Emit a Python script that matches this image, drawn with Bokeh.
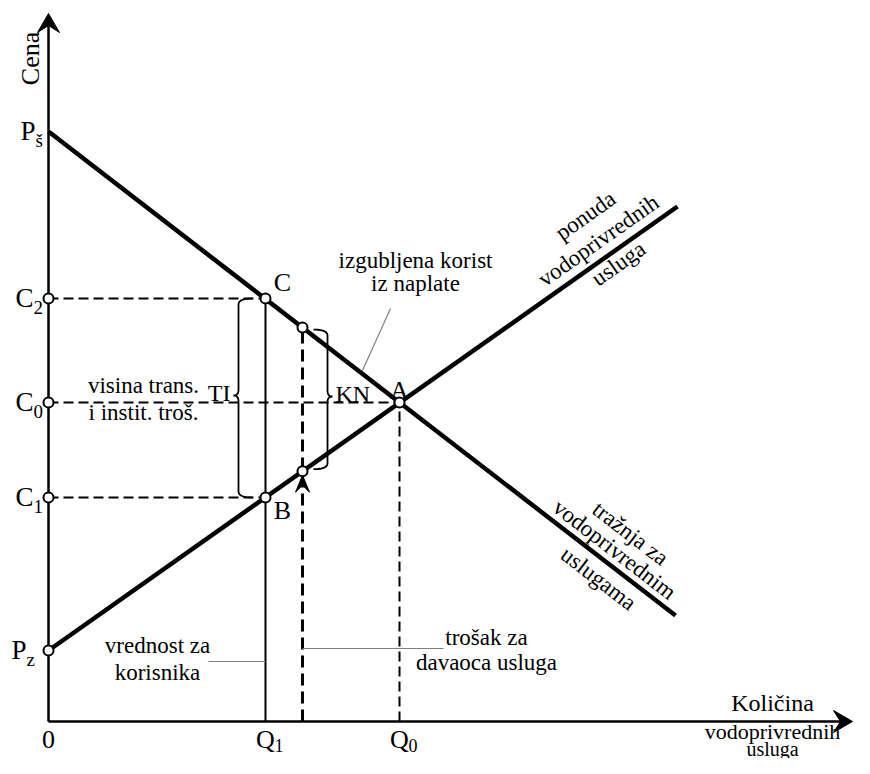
import numpy as np
from bokeh.plotting import figure
from bokeh.models import Range1d
from bokeh.core.properties import value
from bokeh.embed import file_html
from bokeh.resources import INLINE

# ---------------- data (chart units) ----------------
P_s, C2, C0, C1, P_z = 590, 423, 319, 224, 71
Q1, Q0, Qt = 217, 351, 254

demand_q = [0, 627]
demand_p = [590, 106]
supply_q = [0, 629]
supply_p = [71, 515]

y_tick_vals = [P_s, C2, C0, C1, P_z]
y_tick_main = ["P", "C", "C", "C", "P"]
y_tick_sub = ["š", "2", "0", "1", "z"]
x_tick_vals = [0, Q1, Q0]
x_tick_main = ["0", "Q", "Q"]
x_tick_sub = ["", "1", "0"]

x_axis_label = ["Količina", "vodoprivrednih", "usluga"]
y_axis_label = "Cena"
supply_label = ["ponuda", "vodoprivrednih", "usluga"]
demand_label = ["tražnja za", "vodoprivrednim", "uslugama"]
lost_label = ["izgubljena korist", "iz naplate"]
ti_label = ["visina trans.", "i instit. troš."]
user_label = ["vrednost za", "korisnika"]
prov_label = ["trošak za", "davaoca usluga"]

FONT = value("Liberation Serif")

def dem(q):
    return float(np.interp(q, demand_q, demand_p))

def sup(q):
    return float(np.interp(q, supply_q, supply_p))

p = figure(width=854, height=758, x_range=Range1d(-48, 806), y_range=Range1d(-37, 721),
           output_backend="svg", toolbar_location=None, min_border=0,
           x_axis_type=None, y_axis_type=None)
p.grid.visible = False
p.outline_line_color = None
p.background_fill_color = "white"

# axes
ax_top, ax_right = 708, 804
p.line([0, 0], [0, ax_top - 8], line_color="black", line_width=2.5)
p.line([0, ax_right - 8], [0, 0], line_color="black", line_width=2.5)
p.patch([0, -11, 0, 11], [ax_top, ax_top - 19, ax_top - 12, ax_top - 19], color="black")
p.patch([ax_right, ax_right - 19, ax_right - 12, ax_right - 19], [0, 11, 0, -11], color="black")

# dashed guides
dash = dict(line_color="black", line_width=2, line_dash="10 5")
p.line([0, Q1], [C2, C2], **dash)
p.line([0, Q0], [C0, C0], **dash)
p.line([0, Q1], [C1, C1], **dash)
p.line([Q0, Q0], [0, C0], **dash)
p.line([Qt, Qt], [0, dem(Qt)], line_color="black", line_width=3, line_dash="12 6")
p.line([Q1, Q1], [0, C2], line_color="black", line_width=2)

# arrow on cost line
ya = sup(Qt) - 4
p.patch([Qt, Qt - 7, Qt, Qt + 7], [ya, ya - 17, ya - 10, ya - 17], color="black")

# demand & supply
p.line(demand_q, demand_p, line_color="black", line_width=4.5)
p.line(supply_q, supply_p, line_color="black", line_width=4.5)

# braces
def brace(x0, y_top, y_bot, y_nub, d, h=14, n=5, r=6):
    t = np.linspace(0, 1, 12)
    def quad(a, c, b):
        xs = (1 - t) ** 2 * a[0] + 2 * (1 - t) * t * c[0] + t ** 2 * b[0]
        ys = (1 - t) ** 2 * a[1] + 2 * (1 - t) * t * c[1] + t ** 2 * b[1]
        return list(xs), list(ys)
    X, Y = [], []
    for seg in [quad((x0 - d * h, y_top), (x0, y_top), (x0, y_top - r)),
                quad((x0, y_nub + r), (x0, y_nub), (x0 + d * n, y_nub)),
                quad((x0 + d * n, y_nub), (x0, y_nub), (x0, y_nub - r)),
                quad((x0, y_bot + r), (x0, y_bot), (x0 - d * h, y_bot))]:
        X += seg[0]
        Y += seg[1]
    return X, Y

bx, by = brace(190, C2, C1, 326, -1)
p.line(bx, by, line_color="black", line_width=1.8)
bx, by = brace(279, dem(Qt) - 2, sup(Qt) + 2, 325, 1)
p.line(bx, by, line_color="black", line_width=1.8)

# leader lines
gray = dict(line_color="#808080", line_width=1.2)
p.line([342, 314], [413, 351], **gray)
p.line([160, Q1], [60, 60], **gray)
p.line([Qt, 395], [73, 73], **gray)

# points
pts_x = [0, 0, 0, 0, Q1, Q1, Q0, Qt, Qt]
pts_y = [C2, C0, C1, P_z, C2, C1, C0, dem(Qt), sup(Qt)]
p.scatter(pts_x, pts_y, size=10, marker="circle", fill_color="white",
          line_color="black", line_width=2)

def txt(x, y, s, size=23, align="center", baseline="middle", angle=0):
    p.text(x=[x], y=[y], text=[s], text_font=FONT, text_font_size=f"{size}px",
           text_align=align, text_baseline=baseline, angle=angle, text_color="black")

# y tick labels
y_main_x = [-13, -15, -15, -15, -22]
for yv, m, s, mx in zip(y_tick_vals, y_tick_main, y_tick_sub, y_main_x):
    txt(mx, yv + 1, m, size=27, align="right")
    txt(mx, yv - 9, s, size=19, align="left")

# x tick labels
for xv, m, s in zip(x_tick_vals, x_tick_main, x_tick_sub):
    txt(xv, -18, m, size=26)
    if s:
        txt(xv + 9, -24, s, size=18, align="left")

# point labels
txt(234, 439, "C", size=26)
txt(351, 331, "A", size=26)
txt(234, 211, "B", size=26)
txt(182, 329, "TI", size=24, align="right")
txt(287, 328, "KN", size=24, align="left")

# axis titles
txt(-18, 663, y_axis_label, size=26, angle=np.pi / 2)
txt(724, 19, x_axis_label[0], size=24)
txt(724, -10, x_axis_label[1], size=22)
txt(724, -27, x_axis_label[2], size=20)

# annotations
txt(95, 336, ti_label[0])
txt(95, 309, ti_label[1])
txt(367, 461, lost_label[0])
txt(367, 438, lost_label[1])
txt(109, 76, user_label[0])
txt(109, 49, user_label[1])
txt(438, 84, prov_label[0])
txt(438, 59, prov_label[1])

a_s = np.arctan2(supply_p[1] - supply_p[0], supply_q[1] - supply_q[0])
a_d = np.arctan2(demand_p[1] - demand_p[0], demand_q[1] - demand_q[0])
txt(537, 506, supply_label[0], angle=a_s)
txt(550, 481, supply_label[1], angle=a_s)
txt(570, 458, supply_label[2], angle=a_s)
txt(582, 188, demand_label[0], angle=a_d)
txt(566, 172, demand_label[1], angle=a_d)
txt(550, 143, demand_label[2], angle=a_d)

open("out.html", "w").write(file_html(p, INLINE))
